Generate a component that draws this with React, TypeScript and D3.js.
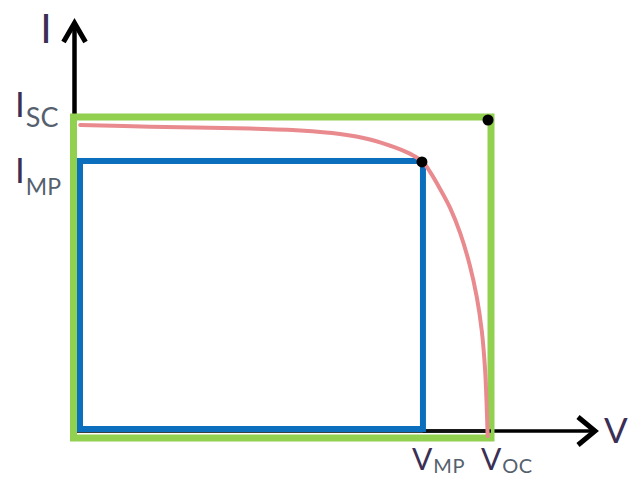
import React from "react";
import * as d3 from "d3";

// ---- data (normalised units: Voc = 100, Isc = 100) ----
const curveVoltage = [1.6, 18.4, 42.3, 54.3, 63.8, 71.0, 77.0, 81.1, 83.7, 85.4, 87.8, 90.2, 92.6, 94.9, 96.6, 97.8, 98.6, 99.0, 99.2];
const curveCurrent = [97.5, 97.0, 96.4, 95.8, 94.7, 93.0, 90.5, 88.2, 86.0, 82.9, 77.6, 71.7, 63.9, 53.9, 43.9, 33.3, 20.9, 8.7, 0.6];
const vOC = 100;
const iSC = 100;
const vMP = 83.7;
const iMP = 86.3;
const axisNames = ["V", "I"];
const vTickNames = [
  { main: "V", sub: "MP" },
  { main: "V", sub: "OC" },
];
const iTickNames = [
  { main: "I", sub: "SC" },
  { main: "I", sub: "MP" },
];

const W = 629;
const H = 494;
const FONT = "Lato, 'Open Sans', sans-serif";
const TEXT_MAIN = "#3b2f55";
const TEXT_SUB = "#55606e";
const GREEN = "#92d050";
const BLUE = "#0b6fbd";
const PINK = "#e98a8e";

export default function App() {
  const x = d3.scaleLinear().domain([0, vOC]).range([73.5, 491]);
  const y = d3.scaleLinear().domain([0, iSC]).range([438, 117]);

  const pts: [number, number][] = curveVoltage.map((v, i) => [v, curveCurrent[i]]);
  const line = d3
    .line<[number, number]>()
    .x((d) => x(d[0]))
    .y((d) => y(d[1]))
    .curve(d3.curveCatmullRom.alpha(0.5));

  const greenW = 7;
  const blueW = 6;
  const inset = 6.5; // blue box sits inside the green box

  const x0 = x(0);
  const y0 = y(0);
  const xAxisY = 431;
  const xTip = 595;
  const yTip = 23;

  const blueLeft = x0 + inset;
  const blueBottom = y0 - 9;

  return (
    <svg
      width={W}
      height={H}
      style={{ position: "absolute", left: 0, top: 0, background: "#fff" }}
    >
      {/* axes */}
      <line x1={x0} y1={xAxisY} x2={xTip - 3} y2={xAxisY} stroke="#000" strokeWidth={3.5} />
      <line x1={x0 + 1} y1={y(iSC)} x2={x0 + 1} y2={yTip + 3} stroke="#000" strokeWidth={4.5} />
      <polyline
        points={`${xTip - 17},${xAxisY - 14} ${xTip},${xAxisY} ${xTip - 17},${xAxisY + 14}`}
        fill="none"
        stroke="#000"
        strokeWidth={5}
        strokeLinejoin="miter"
      />
      <polyline
        points={`${x0 + 1 - 11},${yTip + 19} ${x0 + 1},${yTip} ${x0 + 1 + 11},${yTip + 19}`}
        fill="none"
        stroke="#000"
        strokeWidth={5}
        strokeLinejoin="miter"
      />

      {/* Voc-Isc box */}
      <rect
        x={x(0)}
        y={y(iSC)}
        width={x(vOC) - x(0)}
        height={y(0) - y(iSC)}
        fill="none"
        stroke={GREEN}
        strokeWidth={greenW}
      />
      {/* x axis segment visible between boxes */}
      <line x1={x(vMP)} y1={xAxisY} x2={x(vOC)} y2={xAxisY} stroke="#111" strokeWidth={3.5} />

      {/* MPP box */}
      <rect
        x={blueLeft}
        y={y(iMP)}
        width={x(vMP) - blueLeft}
        height={blueBottom - y(iMP)}
        fill="none"
        stroke={BLUE}
        strokeWidth={blueW}
      />

      {/* I-V curve */}
      <path d={line(pts) || ""} fill="none" stroke={PINK} strokeWidth={4} strokeLinecap="round" />

      {/* points */}
      <circle cx={x(vOC) - 3} cy={y(iSC) + 3} r={5.5} fill="#000" />
      <circle cx={x(vMP) - 1} cy={y(iMP) + 1} r={5.5} fill="#000" />

      {/* axis names */}
      <text x={604} y={443} fontFamily={FONT} fontSize={35} fill={TEXT_MAIN}>
        {axisNames[0]}
      </text>
      <text x={46} y={43} fontFamily={FONT} fontSize={41} fill={TEXT_MAIN} textAnchor="middle">
        {axisNames[1]}
      </text>

      {/* voltage tick labels */}
      {vTickNames.map((t, i) => {
        const bx = i === 0 ? 412 : 481;
        return (
          <text key={t.sub} x={bx} y={470} fontFamily={FONT} fill={TEXT_MAIN}>
            <tspan fontSize={30}>{t.main}</tspan>
            <tspan fontSize={20} dy={3} dx={1} fill={TEXT_SUB} letterSpacing={0.5}>
              {t.sub}
            </tspan>
          </text>
        );
      })}

      {/* current tick labels */}
      {iTickNames.map((t, i) => {
        const by = i === 0 ? 117 : 183;
        const subSize = i === 0 ? 27 : 23;
        const subDy = i === 0 ? 10 : 12;
        return (
          <text key={t.sub} x={15} y={by} fontFamily={FONT} fill={TEXT_MAIN}>
            <tspan fontSize={35}>{t.main}</tspan>
            <tspan fontSize={subSize} dy={subDy} dx={1} fill={TEXT_SUB}>
              {t.sub}
            </tspan>
          </text>
        );
      })}
    </svg>
  );
}
